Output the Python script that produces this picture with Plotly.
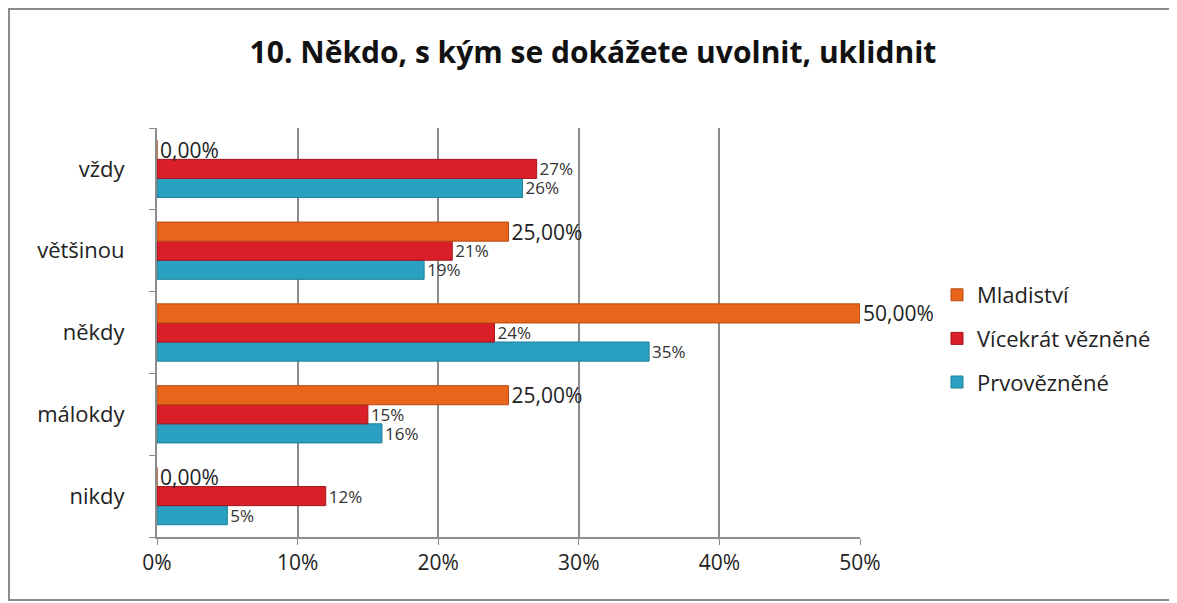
import plotly.graph_objects as go

categories = ["nikdy", "málokdy", "někdy", "většinou", "vždy"]
prvovezn = [5, 16, 35, 19, 26]
vicekrat = [12, 15, 24, 21, 27]
mladistvi = [0, 25, 50, 25, 0]
x_ticks = [0, 10, 20, 30, 40, 50]
x_tick_labels = ["0%", "10%", "20%", "30%", "40%", "50%"]

FONT = "Open Sans"
fig = go.Figure()
fig.add_trace(go.Bar(
    y=categories, x=prvovezn, orientation="h", name="Prvovězněné",
    legendgroup="a", legendrank=3,
    marker=dict(color="#2AA1C0", line=dict(color="#1E7F99", width=1)),
    text=[f"{v}%" for v in prvovezn], textposition="outside", constraintext="none",
    textfont=dict(size=17, color="#333", family=FONT), cliponaxis=False,
))
fig.add_trace(go.Bar(
    y=categories, x=vicekrat, orientation="h", name="Vícekrát vězněné",
    legendgroup="b", legendrank=2,
    marker=dict(color="#DA1F28", line=dict(color="#A3161D", width=1)),
    text=[f"{v}%" for v in vicekrat], textposition="outside", constraintext="none",
    textfont=dict(size=17, color="#333", family=FONT), cliponaxis=False,
))
fig.add_trace(go.Bar(
    y=categories, x=mladistvi, orientation="h", name="Mladiství",
    legendgroup="c", legendrank=1,
    marker=dict(color="#EA651C", line=dict(color="#B34A12", width=1)),
    text=[f"{v:.2f}".replace(".", ",") + "%" for v in mladistvi], textposition="outside",
    constraintext="none",
    textfont=dict(size=21, color="#222", family=FONT), cliponaxis=False,
))

W, H = 1177, 603
OFF = 8  # page offset of the figure
ml, mr, mt, mb = 157 - OFF, W - (860 - OFF), 128 - OFF, H - (537 - OFF)
pw, ph = W - ml - mr, H - mt - mb

def px(xp):
    return (xp - ml) / pw

def py(yp):
    return (H - mb - yp) / ph

fig.update_layout(
    width=W, height=H,
    margin=dict(l=ml, r=mr, t=mt, b=mb),
    paper_bgcolor="white", plot_bgcolor="white",
    barmode="group", bargap=0.3, bargroupgap=0,
    title=dict(text="<b>10. Někdo, s kým se dokážete uvolnit, uklidnit</b>",
               x=(593 - OFF) / W, xanchor="center", y=1 - (52 - OFF) / H, yanchor="middle",
               font=dict(size=30, color="#111", family=FONT)),
    font=dict(family=FONT, color="#222"),
    legend=dict(x=px(937 - OFF), y=py(274 - OFF), xanchor="left", yanchor="top",
                traceorder="grouped", font=dict(size=22, color="#222", family=FONT),
                itemwidth=30, tracegroupgap=12, bgcolor="rgba(0,0,0,0)"),
    xaxis=dict(range=[0, 50], tickvals=x_ticks, ticktext=x_tick_labels,
               showgrid=True, gridcolor="#8C8C8C", gridwidth=2,
               showline=True, linecolor="#8C8C8C", linewidth=2,
               ticks="outside", ticklen=6, tickcolor="#8C8C8C",
               tickfont=dict(size=21, color="#222"), zeroline=False, fixedrange=True),
    yaxis=dict(categoryorder="array", categoryarray=categories,
               showline=True, linecolor="#8C8C8C", linewidth=2,
               ticks="outside", ticklen=6, tickcolor="#8C8C8C", tickson="boundaries",
               tickfont=dict(size=22, color="#222"), ticklabelstandoff=26, fixedrange=True),
    shapes=[dict(type="rect", xref="paper", yref="paper",
                 x0=px(9 - OFF), x1=px(1173 - OFF), y0=py(600 - OFF), y1=py(9 - OFF),
                 line=dict(color="#8C8C8C", width=2), fillcolor="rgba(0,0,0,0)")],
)

fig.write_html("out.html")
